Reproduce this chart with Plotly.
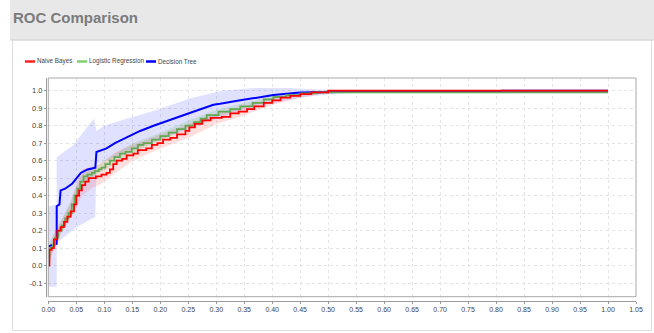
import plotly.graph_objects as go

# ---------------- data ----------------
series_names = ["Naive Bayes", "Logistic Regression", "Decision Tree"]

# Decision Tree (blue) mean ROC
dt_x = [0, 0.015, 0.015, 0.020, 0.022, 0.030, 0.043, 0.050, 0.058, 0.070, 0.084, 0.086,
        0.104, 0.119, 0.146, 0.164, 0.188, 0.230, 0.259, 0.295, 0.307, 0.343, 0.402,
        0.450, 0.490, 0.520, 0.810, 0.810, 1.0]
dt_y = [0.11, 0.125, 0.34, 0.35, 0.43, 0.44, 0.47, 0.50, 0.53, 0.55, 0.56, 0.65,
        0.67, 0.70, 0.74, 0.77, 0.80, 0.85, 0.88, 0.92, 0.925, 0.945, 0.975,
        0.99, 0.993, 0.993, 0.993, 1.0, 1.0]
dt_up_x = [0, 0.015, 0.015, 0.045, 0.075, 0.082, 0.086, 0.100, 0.134, 0.194, 0.253,
           0.310, 0.370, 0.430, 0.490, 0.550, 1.0]
dt_up_y = [0.34, 0.35, 0.62, 0.69, 0.815, 0.84, 0.77, 0.80, 0.834, 0.89, 0.955,
           1.0, 1.015, 1.015, 1.005, 1.0, 1.0]
dt_lo_x = [0, 0.015, 0.015, 0.050, 0.084, 0.086, 0.100, 0.150, 0.200, 0.250, 0.300,
           0.350, 0.400, 0.450, 0.500, 0.550, 1.0]
dt_lo_y = [-0.12, -0.12, 0.13, 0.22, 0.28, 0.58, 0.60, 0.66, 0.72, 0.78, 0.84,
           0.89, 0.93, 0.96, 0.98, 0.99, 0.99]

# Naive Bayes (red) mean ROC (stepwise)
nb_x = [0, 0.002, 0.006, 0.010, 0.016, 0.022, 0.028, 0.034, 0.040, 0.046, 0.050,
        0.055, 0.060, 0.066, 0.072, 0.085, 0.095, 0.104, 0.110, 0.116, 0.122, 0.132,
        0.140, 0.152, 0.160, 0.175, 0.185, 0.195, 0.205, 0.218, 0.230, 0.245, 0.252,
        0.262, 0.275, 0.290, 0.310, 0.325, 0.340, 0.355, 0.368, 0.385, 0.400, 0.415,
        0.432, 0.450, 0.470, 0.500, 1.0]
nb_y = [0.0, 0.09, 0.10, 0.15, 0.20, 0.22, 0.25, 0.28, 0.31, 0.35, 0.40,
        0.43, 0.46, 0.48, 0.50, 0.51, 0.52, 0.53, 0.55, 0.58, 0.60, 0.61,
        0.63, 0.64, 0.66, 0.67, 0.69, 0.70, 0.72, 0.73, 0.75, 0.77, 0.79,
        0.81, 0.83, 0.845, 0.85, 0.87, 0.88, 0.895, 0.91, 0.93, 0.945, 0.96,
        0.97, 0.98, 0.99, 1.0, 1.0]
nb_band_x = [0, 0.01, 0.02, 0.04, 0.05, 0.06, 0.08, 0.09, 0.10, 0.12, 0.15, 0.20,
             0.25, 0.30, 0.35, 0.40, 0.45, 0.50, 1.0]
nb_up = [0.10, 0.18, 0.24, 0.36, 0.47, 0.55, 0.57, 0.58, 0.60, 0.65, 0.69, 0.75,
         0.81, 0.87, 0.91, 0.96, 0.99, 1.0, 1.0]
nb_lo = [-0.02, 0.10, 0.17, 0.27, 0.33, 0.40, 0.45, 0.46, 0.48, 0.53, 0.60, 0.67,
         0.73, 0.81, 0.86, 0.92, 0.96, 0.99, 1.0]

# Logistic Regression (green) mean ROC (stepwise)
lr_x = [0, 0.002, 0.008, 0.012, 0.018, 0.024, 0.030, 0.036, 0.042, 0.047, 0.052,
        0.057, 0.063, 0.070, 0.078, 0.083, 0.090, 0.095, 0.102, 0.110, 0.118, 0.128,
        0.138, 0.149, 0.160, 0.170, 0.185, 0.200, 0.215, 0.230, 0.245, 0.260, 0.272,
        0.283, 0.304, 0.325, 0.343, 0.365, 0.385, 0.402, 0.425, 0.450, 0.480, 0.520, 1.0]
lr_y = [0.05, 0.10, 0.12, 0.16, 0.20, 0.23, 0.27, 0.30, 0.35, 0.40, 0.44,
        0.48, 0.51, 0.52, 0.53, 0.54, 0.55, 0.56, 0.58, 0.60, 0.62, 0.64,
        0.65, 0.67, 0.69, 0.70, 0.72, 0.74, 0.76, 0.78, 0.80, 0.82, 0.84,
        0.86, 0.88, 0.895, 0.91, 0.93, 0.95, 0.964, 0.975, 0.985, 0.99, 0.99, 0.99]
lr_band_x = [0, 0.02, 0.04, 0.06, 0.08, 0.10, 0.15, 0.20, 0.25, 0.30, 0.35, 0.40,
             0.45, 0.50, 1.0]
lr_up = [0.12, 0.24, 0.37, 0.52, 0.56, 0.60, 0.70, 0.76, 0.83, 0.89, 0.93, 0.97,
         0.99, 1.0, 1.0]
lr_lo = [0.02, 0.17, 0.30, 0.46, 0.51, 0.55, 0.64, 0.72, 0.79, 0.85, 0.90, 0.95,
         0.98, 0.985, 0.985]

x_ticks = [i * 0.05 for i in range(22)]
x_tick_labels = ["%.2f" % v for v in x_ticks]
y_ticks = [-0.1, 0.0, 0.1, 0.2, 0.3, 0.4, 0.5, 0.6, 0.7, 0.8, 0.9, 1.0]
y_tick_labels = ["%.1f" % v for v in y_ticks]

# ---------------- styles ----------------
W, H = 654, 333
ML, MR, MT, MB = 46, 18, 78, 32
PW, PH = W - ML - MR, H - MT - MB
FONT = "Liberation Sans Narrow, Arial Narrow, Liberation Sans, Arial, sans-serif"


def px(xp):
    return (xp - ML) / PW


def py(yp):
    return (H - MB - yp) / PH


colors = {"Naive Bayes": "#ff0000", "Logistic Regression": "#62a656", "Decision Tree": "#0000ff"}
legend_colors = {"Naive Bayes": "#ff2020", "Logistic Regression": "#7fd070", "Decision Tree": "#0000ff"}
fills = {"Naive Bayes": "rgba(255,90,90,0.20)", "Logistic Regression": "rgba(110,190,100,0.22)",
         "Decision Tree": "rgba(70,70,255,0.17)"}

fig = go.Figure()


def band(xl, yl, xu, yu, name):
    fig.add_trace(go.Scatter(x=list(xu) + list(xl)[::-1], y=list(yu) + list(yl)[::-1],
                             fill="toself", fillcolor=fills[name], line=dict(width=0),
                             mode="lines", hoverinfo="skip", showlegend=False))


band(dt_lo_x, dt_lo_y, dt_up_x, dt_up_y, "Decision Tree")
band(nb_band_x, nb_lo, nb_band_x, nb_up, "Naive Bayes")
band(lr_band_x, lr_lo, lr_band_x, lr_up, "Logistic Regression")

fig.add_trace(go.Scatter(x=dt_x, y=dt_y, mode="lines", name="Decision Tree",
                         line=dict(color=colors["Decision Tree"], width=2)))
fig.add_trace(go.Scatter(x=lr_x, y=lr_y, mode="lines", name="Logistic Regression",
                         line=dict(color=colors["Logistic Regression"], width=1.8, shape="hv")))
fig.add_trace(go.Scatter(x=nb_x, y=nb_y, mode="lines", name="Naive Bayes",
                         line=dict(color=colors["Naive Bayes"], width=1.8, shape="hv")))

shapes = [
    # grey title banner
    dict(type="rect", xref="paper", yref="paper", x0=px(10), x1=px(654), y0=py(40), y1=py(0),
         fillcolor="#e8e8e8", line=dict(width=0), layer="below"),
    dict(type="line", xref="paper", yref="paper", x0=px(10), x1=px(654), y0=py(40), y1=py(40),
         line=dict(color="#d2d2d2", width=1)),
    # white panel border
    dict(type="rect", xref="paper", yref="paper", x0=px(12.5), x1=px(651.5), y0=py(330.5), y1=py(40),
         line=dict(color="#dedede", width=1), layer="below"),
    # plot frame
    dict(type="rect", xref="x domain", yref="y domain", x0=0, x1=1, y0=0, y1=1,
         line=dict(color="#a8a8a8", width=1), layer="above"),
]

annotations = [
    dict(text="<b>ROC Comparison</b>", xref="paper", yref="paper", x=px(11), y=py(18),
         xanchor="left", yanchor="middle", showarrow=False,
         font=dict(family=FONT, size=15, color="#7b7b7b")),
]

legend_pos = [("Naive Bayes", 25), ("Logistic Regression", 77), ("Decision Tree", 146)]
for name, x0 in legend_pos:
    shapes.append(dict(type="line", xref="paper", yref="paper", x0=px(x0), x1=px(x0 + 10),
                       y0=py(61.5), y1=py(61.5), line=dict(color=legend_colors[name], width=2.5)))
    annotations.append(dict(text=name, xref="paper", yref="paper", x=px(x0 + 10), y=py(61.5),
                            xanchor="left", yanchor="middle", showarrow=False,
                            font=dict(family=FONT, size=6.3, color="#444444")))

fig.update_layout(
    width=W, height=H,
    margin=dict(l=ML, r=MR, t=MT, b=MB, pad=0),
    paper_bgcolor="white", plot_bgcolor="white",
    showlegend=False,
    shapes=shapes, annotations=annotations,
    xaxis=dict(range=[0, 1.05], domain=[(48.3 - ML) / PW, 1], anchor="free", position=0,
               tickmode="array", tickvals=x_ticks, ticktext=x_tick_labels,
               showgrid=True, gridcolor="#e4e4e4", griddash="dot", gridwidth=1,
               zeroline=False, showline=True, linecolor="#9a9a9a", linewidth=1,
               ticks="outside", ticklen=2, tickcolor="#9a9a9a",
               tickfont=dict(family=FONT, size=7, color="#444444")),
    yaxis=dict(range=[-0.1774, 1.0727], domain=[(H - MB - 296.7) / PH, 1], anchor="free", position=0,
               tickmode="array", tickvals=y_ticks, ticktext=y_tick_labels,
               showgrid=True, gridcolor="#e4e4e4", griddash="dot", gridwidth=1,
               zeroline=False, showline=True, linecolor="#9a9a9a", linewidth=1,
               ticks="outside", ticklen=2, tickcolor="#9a9a9a",
               tickfont=dict(family=FONT, size=7.5, color="#444444")),
)

fig.write_html("out.html", config={"displayModeBar": False},
               post_script="document.body.style.margin='0';")
